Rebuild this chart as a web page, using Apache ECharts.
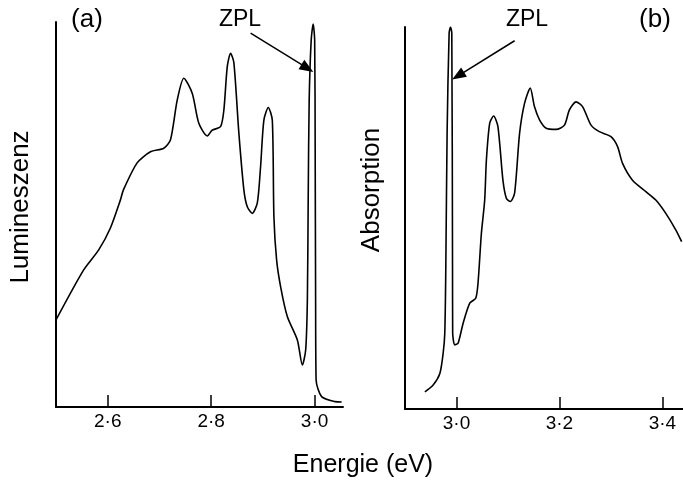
<!DOCTYPE html>
<html>
<head>
<meta charset="utf-8">
<script src="https://cdn.jsdelivr.net/npm/echarts@6/dist/echarts.min.js"></script>
<style>
  html, body { margin: 0; padding: 0; background: #fff; }
  #chart { width: 683px; height: 483px; }
</style>
</head>
<body>
<div id="chart"></div>
<script>
// (a) luminescence, energy in eV / relative intensity
var lumEnergy = [2.500, 2.5535, 2.5826, 2.6052, 2.6246, 2.6304, 2.6569, 2.6827, 2.7084, 2.7214,
    2.7344, 2.7472, 2.7634, 2.7762, 2.7925, 2.8021, 2.8182, 2.8246, 2.8312, 2.8376,
    2.8440, 2.8536, 2.8633, 2.8699, 2.8796, 2.8893, 2.8956, 2.9020, 2.9105, 2.9183,
    2.9214, 2.9266, 2.9344, 2.9473, 2.9667, 2.9764, 2.9828, 2.9861, 2.9877, 2.9896,
    2.9935, 2.9973, 3.0002, 3.0012, 3.0020, 3.0030, 3.0136, 3.0394, 3.0524];
var lumValues = [22.6, 35.6, 40.8, 46.5, 53.8, 56.4, 63.4, 66.3, 67.2, 69.4,
    79.7, 85.4, 81.5, 73.7, 70.4, 71.9, 72.8, 77.1, 88.4, 91.9,
    89.4, 71.2, 56.4, 52.0, 50.3, 53.0, 62.4, 74.5, 77.8, 74.5,
    49.4, 38.2, 31.2, 23.5, 17.4, 10.9, 14.8, 27.8, 53.8, 79.7,
    95.3, 99.5, 95.3, 66.8, 30.0, 7.0, 2.7, 1.4, 1.3];

// (b) absorption
var absEnergy = [2.9386, 2.9547, 2.9677, 2.9741, 2.9773, 2.9793, 2.9818, 2.9857, 2.9884, 2.9909,
    2.9923, 2.9926, 2.9967, 3.0031, 3.0128, 3.0258, 3.0374, 3.0418, 3.0484, 3.0548,
    3.0581, 3.0645, 3.0722, 3.0805, 3.0902, 3.0968, 3.1045, 3.1129, 3.1226, 3.1322,
    3.1433, 3.1516, 3.1613, 3.1742, 3.1936, 3.2097, 3.2194, 3.2323, 3.2451, 3.2614,
    3.2774, 3.3001, 3.3129, 3.3226, 3.3419, 3.3679, 3.3872, 3.4066, 3.4259, 3.4374];
var absValues = [4.5, 6.3, 9.3, 14.6, 19.9, 37.3, 72.3, 98.4, 100.0, 98.4,
    37.3, 19.9, 16.8, 17.2, 22.4, 27.7, 29.0, 32.9, 46.0, 54.7,
    65.2, 74.8, 76.7, 73.9, 59.9, 55.2, 54.3, 56.5, 72.2, 80.0,
    84.0, 79.1, 75.7, 73.5, 73.2, 74.3, 78.3, 80.4, 79.1, 74.3,
    72.6, 71.3, 68.7, 64.3, 59.9, 56.9, 54.7, 51.2, 46.9, 43.8];

var lumTicks = [2.6, 2.8, 3.0];
var absTicks = [3.0, 3.2, 3.4];

// ZPL arrows: [start, tip] in data units
var lumArrow = [[2.8763, 97.1], [2.9861, 88.0]];
var absArrow = [[3.1129, 96.4], [3.0031, 87.2]];

function pairs(xs, ys){
    return xs.map(function(x, i){ return [x, ys[i]]; });
}

function tickLabel(v){
    return v.toFixed(1).replace('.', '\u00b7');
}

function xAxisFor(idx, min, max, ticks){
    return {
        type: 'value', gridIndex: idx, min: min, max: max,
        splitLine: { show: false },
        axisLine: { lineStyle: { color: '#000', width: 2 } },
        axisTick: { inside: true, length: 12, customValues: ticks, lineStyle: { color: '#000', width: 1.5 } },
        axisLabel: {
            customValues: ticks, formatter: tickLabel, margin: 5,
            color: '#000', fontSize: 19, fontFamily: 'Liberation Sans'
        }
    };
}

function yAxisFor(idx){
    return {
        type: 'value', gridIndex: idx, min: 0, max: 100,
        splitLine: { show: false },
        axisLine: { show: true, lineStyle: { color: '#000', width: 2 } },
        axisTick: { show: false },
        axisLabel: { show: false }
    };
}

function arrowLine(pts){
    return {
        silent: true,
        symbol: ['none', 'triangle'],
        symbolSize: [11, 14],
        label: { show: false },
        lineStyle: { color: '#000', width: 1.5, type: 'solid' },
        data: [[{ coord: pts[0] }, { coord: pts[1] }]]
    };
}

var txt = { fill: '#000', fontFamily: 'Liberation Sans' };

var option = {
    animation: false,
    backgroundColor: '#fff',
    grid: [
        { left: 56, top: 22, width: 287, height: 385 },
        { left: 405, top: 27, width: 279, height: 382 }
    ],
    xAxis: [
        xAxisFor(0, 2.5, 3.055, lumTicks),
        xAxisFor(1, 2.9, 3.44, absTicks)
    ],
    yAxis: [yAxisFor(0), yAxisFor(1)],
    series: [{
        type: 'line', xAxisIndex: 0, yAxisIndex: 0,
        data: pairs(lumEnergy, lumValues),
        showSymbol: false, smooth: 0.25,
        lineStyle: { color: '#000', width: 1.6 },
        markLine: arrowLine(lumArrow)
    }, {
        type: 'line', xAxisIndex: 1, yAxisIndex: 1,
        data: pairs(absEnergy, absValues),
        showSymbol: false, smooth: 0.25,
        lineStyle: { color: '#000', width: 1.6 },
        markLine: arrowLine(absArrow)
    }],
    graphic: [
        { type: 'text', x: 87, y: 20, style: Object.assign({ text: '(a)', fontSize: 26, align: 'center', verticalAlign: 'middle' }, txt) },
        { type: 'text', x: 655, y: 20, style: Object.assign({ text: '(b)', fontSize: 26, align: 'center', verticalAlign: 'middle' }, txt) },
        { type: 'text', x: 240, y: 20, style: Object.assign({ text: 'ZPL', fontSize: 23, align: 'center', verticalAlign: 'middle' }, txt) },
        { type: 'text', x: 527, y: 20, style: Object.assign({ text: 'ZPL', fontSize: 23, align: 'center', verticalAlign: 'middle' }, txt) },
        { type: 'text', x: 21, y: 207, rotation: Math.PI / 2,
          style: Object.assign({ text: 'Lumineszenz', fontSize: 26, align: 'center', verticalAlign: 'middle' }, txt) },
        { type: 'text', x: 372, y: 190, rotation: Math.PI / 2,
          style: Object.assign({ text: 'Absorption', fontSize: 26, align: 'center', verticalAlign: 'middle' }, txt) },
        { type: 'text', x: 363, y: 465,
          style: Object.assign({ text: 'Energie (eV)', fontSize: 25, align: 'center', verticalAlign: 'middle' }, txt) }
    ]
};

var myChart = echarts.init(document.getElementById('chart'));
myChart.setOption(option);
</script>
</body>
</html>
